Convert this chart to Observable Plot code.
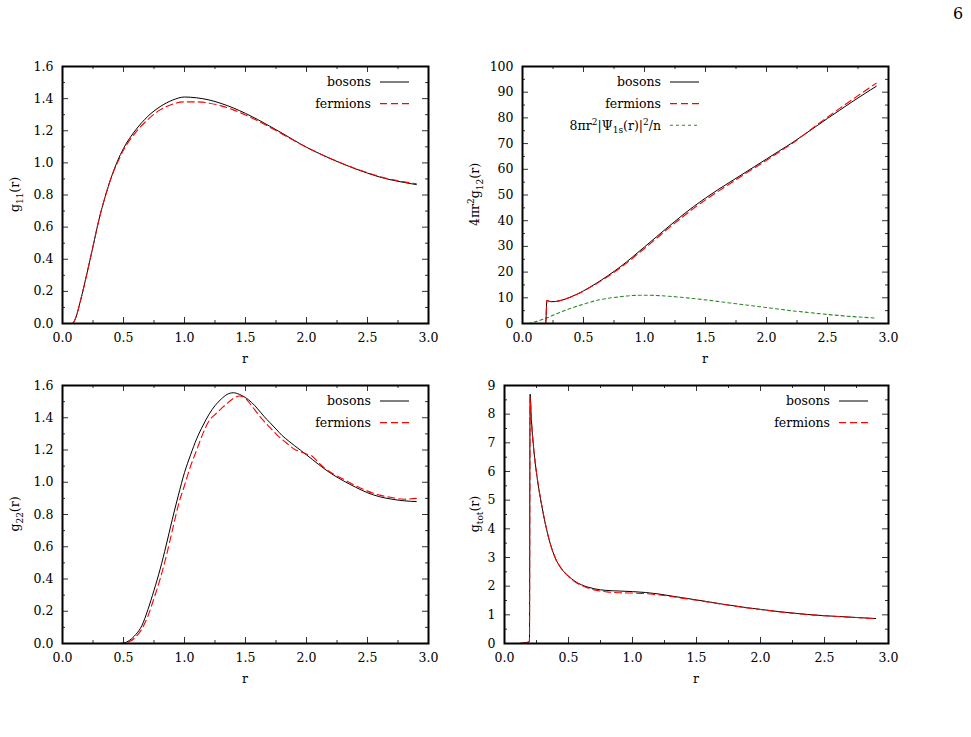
<!DOCTYPE html>
<html><head><meta charset="utf-8">
<script src="https://cdn.jsdelivr.net/npm/d3@7"></script>
<script src="https://cdn.jsdelivr.net/npm/@observablehq/plot@0.6"></script>
<style>
body{margin:0;background:#fff;}
#page{position:relative;width:971px;height:737px;font-family:"DejaVu Serif","Liberation Serif",serif;background:#fff;overflow:hidden;}
.panel{position:absolute;line-height:0;}
.panel svg{display:block;}
#pagenum{position:absolute;left:953px;top:5px;font-size:16px;line-height:18px;}
</style></head><body><div id="page"><div id="pagenum">6</div></div>
<script>
// ---------- data ----------
const xMajor = [0, 0.5, 1.0, 1.5, 2.0, 2.5, 3.0];
const xMinor = [0.25, 0.75, 1.25, 1.75, 2.25, 2.75];

// panel 1: g11(r)
const g11R = [0,0.05,0.08,0.1,0.15,0.2,0.25,0.3,0.35,0.4,0.45,0.5,0.6,0.7,0.8,0.9,1.0,1.1,1.2,1.3,1.4,1.5,1.6,1.7,1.8,1.9,2.0,2.1,2.2,2.3,2.4,2.5,2.6,2.7,2.8,2.9];
const g11Bosons = [0,0,0,0.02,0.15,0.31,0.48,0.65,0.79,0.91,1.01,1.09,1.205,1.29,1.35,1.39,1.41,1.405,1.392,1.37,1.342,1.308,1.27,1.228,1.185,1.14,1.097,1.06,1.025,0.993,0.963,0.936,0.912,0.893,0.878,0.865];
const g11Fermions = [0,0,0,0.02,0.15,0.31,0.48,0.65,0.79,0.91,1.0,1.08,1.19,1.27,1.33,1.365,1.38,1.38,1.372,1.355,1.33,1.298,1.262,1.222,1.18,1.138,1.097,1.06,1.026,0.994,0.965,0.939,0.915,0.896,0.882,0.87];

// panel 2: 4 pi r^2 g12(r)
const g12R = [0,0.1,0.19,0.2,0.22,0.25,0.3,0.35,0.4,0.5,0.6,0.7,0.8,0.9,1.0,1.1,1.2,1.3,1.4,1.5,1.6,1.7,1.8,1.9,2.0,2.1,2.2,2.3,2.4,2.5,2.6,2.7,2.8,2.9];
const g12Bosons = [0,0,0,9.0,8.6,8.5,8.8,9.5,10.4,12.7,15.5,18.6,22.0,25.8,29.8,33.8,37.8,41.7,45.4,48.8,52.0,55.0,58.0,61.0,64.0,67.0,70.0,73.2,76.5,79.8,83.0,86.2,89.3,92.3];
const g12Fermions = [0,0,0,9.0,8.6,8.5,8.8,9.5,10.4,12.6,15.3,18.3,21.6,25.3,29.2,33.2,37.2,41.0,44.7,48.1,51.3,54.4,57.5,60.5,63.5,66.6,69.7,73.2,76.8,80.3,83.7,87.0,90.3,93.5];
const psiR = [0,0.05,0.1,0.2,0.3,0.4,0.5,0.6,0.7,0.8,0.9,1.0,1.1,1.2,1.3,1.4,1.5,1.6,1.7,1.8,1.9,2.0,2.1,2.2,2.3,2.4,2.5,2.6,2.7,2.8,2.9];
const psiDensity = [0,0,0.6,2.2,4.2,6.0,7.5,8.9,9.8,10.4,10.9,11.0,10.9,10.6,10.2,9.7,9.2,8.6,8.0,7.4,6.8,6.2,5.6,5.0,4.5,4.0,3.5,3.1,2.7,2.4,2.1];

// panel 3: g22(r)
const g22R = [0,0.4,0.45,0.5,0.55,0.6,0.65,0.7,0.75,0.8,0.85,0.9,0.95,1.0,1.05,1.1,1.15,1.2,1.25,1.3,1.35,1.4,1.45,1.5,1.55,1.6,1.65,1.7,1.75,1.8,1.85,1.9,1.95,2.0,2.05,2.1,2.2,2.3,2.4,2.5,2.6,2.7,2.8,2.9];
const g22Bosons = [0,0,0,0.003,0.02,0.055,0.11,0.21,0.33,0.46,0.61,0.77,0.92,1.06,1.17,1.27,1.35,1.42,1.475,1.515,1.545,1.555,1.545,1.525,1.495,1.455,1.41,1.37,1.33,1.29,1.258,1.228,1.199,1.17,1.14,1.11,1.055,1.01,0.97,0.935,0.91,0.895,0.885,0.88];
const g22Fermions = [0,0,0,0,0.012,0.04,0.09,0.17,0.28,0.40,0.54,0.70,0.86,0.98,1.10,1.20,1.30,1.38,1.42,1.455,1.49,1.52,1.535,1.52,1.475,1.425,1.38,1.34,1.30,1.265,1.235,1.205,1.19,1.175,1.16,1.12,1.06,1.02,0.98,0.945,0.92,0.905,0.895,0.9];

// panel 4: gtot(r)
const gtotR = [0,0.12,0.15,0.19,0.195,0.2,0.21,0.22,0.23,0.24,0.25,0.3,0.35,0.4,0.45,0.5,0.55,0.6,0.65,0.7,0.8,0.9,1.0,1.1,1.2,1.3,1.4,1.5,1.6,1.7,1.8,1.9,2.0,2.1,2.2,2.3,2.4,2.5,2.6,2.7,2.8,2.9];
const gtotBosons = [0,0,0.02,0.05,0.1,8.7,7.8,7.2,6.7,6.3,5.95,4.6,3.6,2.95,2.58,2.35,2.17,2.05,1.97,1.91,1.85,1.83,1.81,1.78,1.73,1.66,1.59,1.52,1.45,1.375,1.31,1.245,1.19,1.135,1.085,1.04,1.0,0.97,0.945,0.92,0.895,0.87];
const gtotFermions = [0,0,0.02,0.05,0.1,8.6,7.8,7.2,6.7,6.3,5.95,4.6,3.6,2.95,2.58,2.34,2.15,2.03,1.94,1.87,1.8,1.77,1.76,1.74,1.7,1.64,1.575,1.51,1.44,1.37,1.305,1.24,1.185,1.13,1.08,1.037,0.998,0.968,0.943,0.918,0.893,0.868];

// ---------- drawing ----------
const FONT = "'DejaVu Serif', 'Liberation Serif', serif";
const FS = 12.5;
const BOSON = {stroke: "black", strokeWidth: 1};
const FERMION = {stroke: "#ff0000", strokeWidth: 1.1, strokeDasharray: "7,4"};
const PSI = {stroke: "#2a8a2a", strokeWidth: 1.1, strokeDasharray: "3,3"};

function rows(R, V) { return R.map((r, i) => ({r, v: V[i]})); }
function range(a, b, s) { const out = []; for (let v = a; v <= b + 1e-9; v += s) out.push(+v.toFixed(6)); return out; }

function panel(cfg) {
  const {left, top, W, H, mL, mR, mT, mB, yDomain, yMajor, yMinor, yFormat, series, legendX, legendRows, ylabel} = cfg;
  const FW = W - mL - mR, FH = H - mT - mB;
  const tickStroke = "#333";
  const marks = [
    Plot.axisX(xMajor, {tickSize: 0, tickPadding: 10, tickFormat: d3.format(".1f"), label: null, fontSize: FS}),
    Plot.axisY(yMajor, {tickSize: 0, tickPadding: 9, tickFormat: yFormat, label: null, fontSize: FS}),
    // inward ticks on all four sides
    Plot.tickX(xMajor, {x: d => d, insetTop: FH - 6, stroke: tickStroke}),
    Plot.tickX(xMajor, {x: d => d, insetBottom: FH - 6, stroke: tickStroke}),
    Plot.tickX(xMinor, {x: d => d, insetTop: FH - 3, stroke: tickStroke}),
    Plot.tickX(xMinor, {x: d => d, insetBottom: FH - 3, stroke: tickStroke}),
    Plot.tickY(yMajor, {y: d => d, insetRight: FW - 6, stroke: tickStroke}),
    Plot.tickY(yMajor, {y: d => d, insetLeft: FW - 6, stroke: tickStroke}),
    Plot.tickY(yMinor, {y: d => d, insetRight: FW - 3, stroke: tickStroke}),
    Plot.tickY(yMinor, {y: d => d, insetLeft: FW - 3, stroke: tickStroke}),
  ];
  for (const s of series) {
    marks.push(Plot.line(rows(s.R, s.V), {x: "r", y: "v", curve: "monotone-x", ...s.style}));
  }
  marks.push(Plot.frame({stroke: "black", strokeWidth: 2}));
  const svgEl = Plot.plot({
    width: W, height: H,
    marginLeft: mL, marginRight: mR, marginTop: mT, marginBottom: mB,
    x: {domain: [0, 3]},
    y: {domain: yDomain},
    style: {fontFamily: FONT, fontSize: FS + "px", color: "black", background: "white", overflow: "visible"},
    marks
  });
  const wrap = document.createElement("div");
  wrap.className = "panel";
  wrap.style.left = left + "px";
  wrap.style.top = top + "px";
  wrap.appendChild(svgEl);
  document.getElementById("page").appendChild(wrap);

  const svg = d3.select(svgEl);
  const g = svg.append("g").style("font-family", FONT).attr("font-size", FS).attr("fill", "black");
  // x label
  g.append("text").attr("x", mL + FW / 2).attr("y", mT + FH + 36).attr("dy", "0.35em")
    .attr("text-anchor", "middle").text("r");
  // y label (rotated, with sub/superscripts)
  const yl = g.append("text").attr("text-anchor", "middle")
    .attr("transform", `translate(15,${mT + FH / 2}) rotate(-90)`).attr("dy", "0.35em");
  fillRich(yl, ylabel);
  // legend
  legendRows.forEach((row, i) => {
    const y = mT + 16 + i * 21.6;
    const t = g.append("text").attr("x", legendX).attr("y", y).attr("dy", "0.35em").attr("text-anchor", "end");
    fillRich(t, row.label);
    g.append("line").attr("x1", legendX + 9).attr("x2", legendX + 38).attr("y1", y).attr("y2", y)
      .attr("stroke", row.style.stroke).attr("stroke-width", row.style.strokeWidth)
      .attr("stroke-dasharray", row.style.strokeDasharray || null);
  });
}

// rich text parts: strings or {sub: ".."} / {sup: ".."}
function fillRich(textSel, parts) {
  let shift = 0;
  for (const p of parts) {
    if (typeof p === "string") {
      textSel.append("tspan").attr("dy", shift ? -shift : null).text(p);
      shift = 0;
    } else if (p.sub) {
      textSel.append("tspan").attr("font-size", 9).attr("dy", (3.5 - shift) || null).text(p.sub);
      shift = 3.5;
    } else if (p.sup) {
      textSel.append("tspan").attr("font-size", 9).attr("dy", (-5 - shift) || null).text(p.sup);
      shift = -5;
    }
  }
}

const legendBF = [
  {label: ["bosons"], style: BOSON},
  {label: ["fermions"], style: FERMION}
];

panel({
  left: 0, top: 50, W: 440, H: 330, mL: 62, mR: 12, mT: 16, mB: 57,
  yDomain: [0, 1.6], yMajor: range(0, 1.6, 0.2), yMinor: range(0.1, 1.5, 0.2), yFormat: d3.format(".1f"),
  series: [
    {R: g11R, V: g11Bosons, style: BOSON},
    {R: g11R, V: g11Fermions, style: FERMION}
  ],
  legendX: 371, legendRows: legendBF,
  ylabel: ["g", {sub: "11"}, "(r)"]
});

panel({
  left: 460, top: 50, W: 440, H: 330, mL: 62, mR: 12, mT: 16, mB: 57,
  yDomain: [0, 100], yMajor: range(0, 100, 10), yMinor: range(5, 95, 10), yFormat: d3.format("d"),
  series: [
    {R: psiR, V: psiDensity, style: PSI},
    {R: g12R, V: g12Bosons, style: BOSON},
    {R: g12R, V: g12Fermions, style: FERMION}
  ],
  legendX: 201, legendRows: [
    ...legendBF,
    {label: ["8\u03C0r", {sup: "2"}, "|\u03A8", {sub: "1s"}, "(r)|", {sup: "2"}, "/n"], style: PSI}
  ],
  ylabel: ["4\u03C0r", {sup: "2"}, "g", {sub: "12"}, "(r)"]
});

panel({
  left: 0, top: 370, W: 440, H: 330, mL: 62, mR: 12, mT: 15, mB: 57,
  yDomain: [0, 1.6], yMajor: range(0, 1.6, 0.2), yMinor: range(0.1, 1.5, 0.2), yFormat: d3.format(".1f"),
  series: [
    {R: g22R, V: g22Bosons, style: BOSON},
    {R: g22R, V: g22Fermions, style: FERMION}
  ],
  legendX: 371, legendRows: legendBF,
  ylabel: ["g", {sub: "22"}, "(r)"]
});

panel({
  left: 460, top: 370, W: 440, H: 330, mL: 44, mR: 12, mT: 15, mB: 57,
  yDomain: [0, 9], yMajor: range(0, 9, 1), yMinor: range(0.5, 8.5, 1), yFormat: d3.format("d"),
  series: [
    {R: gtotR, V: gtotBosons, style: BOSON},
    {R: gtotR, V: gtotFermions, style: FERMION}
  ],
  legendX: 370, legendRows: legendBF,
  ylabel: ["g", {sub: "tot"}, "(r)"]
});
</script>
</body></html>
